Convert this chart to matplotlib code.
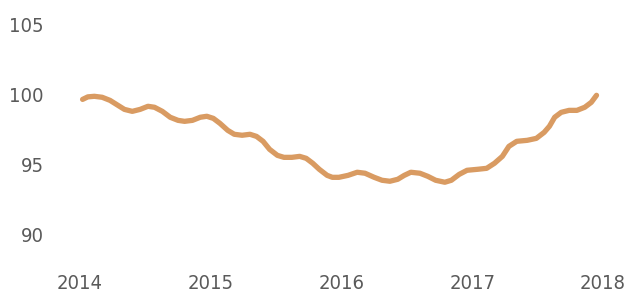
import matplotlib
matplotlib.use("Agg")
import matplotlib.pyplot as plt

years = [2014.02, 2014.06, 2014.11, 2014.17, 2014.23, 2014.29, 2014.34, 2014.40, 2014.46, 2014.52,
         2014.57, 2014.63, 2014.69, 2014.75, 2014.80, 2014.86, 2014.92, 2014.97, 2015.02, 2015.07,
         2015.13, 2015.18, 2015.24, 2015.30, 2015.35, 2015.40, 2015.45, 2015.51, 2015.56, 2015.62,
         2015.68, 2015.73, 2015.78, 2015.83, 2015.89, 2015.93, 2015.98, 2016.05, 2016.12, 2016.18,
         2016.25, 2016.31, 2016.37, 2016.43, 2016.48, 2016.53, 2016.60, 2016.66, 2016.72, 2016.79,
         2016.84, 2016.90, 2016.96, 2017.04, 2017.11, 2017.17, 2017.23, 2017.28, 2017.34, 2017.42,
         2017.49, 2017.55, 2017.59, 2017.63, 2017.68, 2017.74, 2017.80, 2017.86, 2017.91, 2017.95]
values = [99.64, 99.82, 99.86, 99.79, 99.57, 99.22, 98.93, 98.79, 98.93, 99.15,
          99.08, 98.79, 98.37, 98.15, 98.08, 98.15, 98.37, 98.44, 98.29, 97.94,
          97.44, 97.16, 97.09, 97.16, 97.01, 96.66, 96.09, 95.66, 95.52, 95.52,
          95.59, 95.45, 95.10, 94.67, 94.24, 94.10, 94.10, 94.24, 94.46, 94.39,
          94.10, 93.89, 93.82, 93.96, 94.24, 94.46, 94.39, 94.17, 93.89, 93.75,
          93.89, 94.31, 94.60, 94.67, 94.74, 95.10, 95.59, 96.30, 96.66, 96.73,
          96.87, 97.30, 97.73, 98.37, 98.72, 98.86, 98.86, 99.08, 99.43, 99.93]
x_ticks = [2014, 2015, 2016, 2017, 2018]
x_labels = ["2014", "2015", "2016", "2017", "2018"]
y_ticks = [90, 95, 100, 105]
y_labels = ["90", "95", "100", "105"]

fig = plt.figure(figsize=(6.28, 2.95), dpi=100)
ax = fig.add_axes([0.0961, 0.1319, 0.8954, 0.8344])
ax.plot(years, values, color="#D99B62", linewidth=3.8,
        solid_capstyle="round", solid_joinstyle="round")
ax.set_xlim(2013.85, 2018.15)
ax.set_ylim(88.5, 106)
ax.set_xticks(x_ticks)
ax.set_xticklabels(x_labels)
ax.set_yticks(y_ticks)
ax.set_yticklabels(y_labels)
for s in ax.spines.values():
    s.set_visible(False)
ax.tick_params(length=0, colors="#5a5a5a", labelsize=14.5)
ax.tick_params(axis="y", pad=12)
ax.tick_params(axis="x", pad=13)
for lab in ax.get_xticklabels() + ax.get_yticklabels():
    lab.set_family(["DejaVu Sans"])
    lab.set_stretch("condensed")
    lab.set_weight("light")
    lab.set_color("#5a5a5a")
fig.savefig("out.png", dpi=100)
